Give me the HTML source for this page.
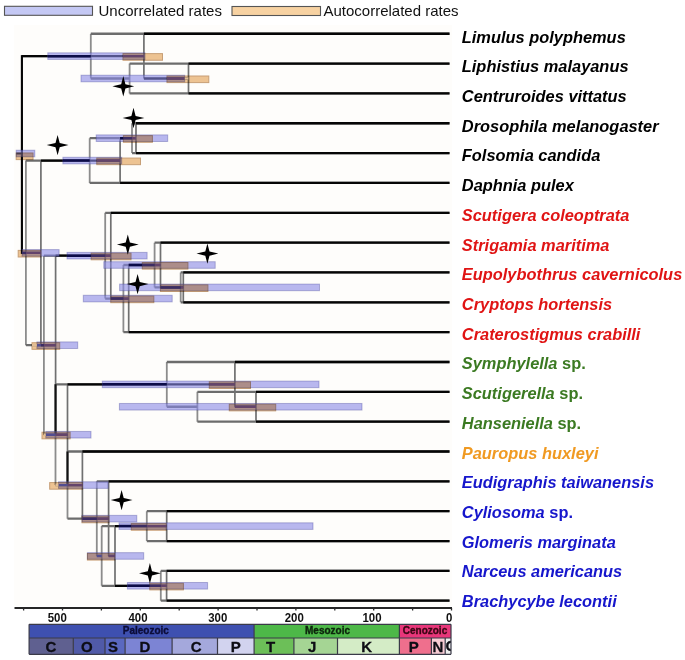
<!DOCTYPE html>
<html><head><meta charset="utf-8"><style>
html,body{margin:0;padding:0;background:#fff;}
body{width:685px;height:660px;overflow:hidden;}
svg{display:block;}
text{font-family:"Liberation Sans",sans-serif;}
.lb{font-size:16px;font-weight:bold;}
.ax{font-size:13px;font-weight:bold;fill:#111;}
.era{font-size:10px;font-weight:bold;stroke-width:0.35px;}
.per{font-size:15px;font-weight:bold;fill:#0d0d14;stroke:#0d0d14;stroke-width:0.3px;}
.lg{font-size:15px;fill:#111;}
</style></head><body>
<svg width="685" height="660" viewBox="0 0 685 660">
<rect x="14" y="25" width="438" height="581" fill="#fefdfb"/>
<path d="M21.9 56.13V252.89M90.8 33.75V78.51M129.6 63.59V93.43M25.9 160.57V345.21M89.7 138.19V182.95M132 123.27V153.11M43.9 255.69V434.73M105.2 212.79V298.58M123.4 265.01V332.15M154.6 242.63V287.39M180.7 272.47V302.31M55.5 384.37V485.08M166.8 361.99V406.75M197.4 391.83V421.67M67.5 451.51V518.65M96.8 481.35V555.95M101.7 526.11V585.79M146.8 511.19V541.03M160.8 570.87V600.71" stroke="#8c8c8c" stroke-width="1.8" fill="none"/>
<path d="M21.9 56.13H90.8M21.9 252.89H25.9M90.8 33.75H449.5M90.8 78.51H129.6M129.6 63.59H449.5M129.6 93.43H449.5M25.9 160.57H89.7M25.9 345.21H43.9M89.7 138.19H132M89.7 182.95H449.5M132 123.27H449.5M132 153.11H449.5M43.9 255.69H105.2M43.9 434.73H55.5M105.2 212.79H449.5M105.2 298.58H123.4M123.4 265.01H154.6M123.4 332.15H449.5M154.6 242.63H449.5M154.6 287.39H180.7M180.7 272.47H449.5M180.7 302.31H449.5M55.5 384.37H166.8M55.5 485.08H67.5M166.8 361.99H449.5M166.8 406.75H197.4M197.4 391.83H449.5M197.4 421.67H449.5M67.5 451.51H449.5M67.5 518.65H96.8M96.8 481.35H449.5M96.8 555.95H101.7M101.7 526.11H146.8M101.7 585.79H160.8M146.8 511.19H449.5M146.8 541.03H449.5M160.8 570.87H449.5M160.8 600.71H449.5" stroke="#6c6c6c" stroke-width="2.3" fill="none"/>
<path d="M21.9 56.13V252.89M143.9 33.75V78.51M188.5 63.59V93.43M40.9 160.57V345.21M120.1 138.19V182.95M136 123.27V153.11M55.6 255.69V434.73M110.8 212.79V298.58M128.7 265.01V332.15M160.5 242.63V287.39M183.3 272.47V302.31M67.5 384.37V485.08M234.9 361.99V406.75M256 391.83V421.67M82.4 451.51V518.65M108.6 481.35V555.95M115 526.11V585.79M166.7 511.19V541.03M166.6 570.87V600.71" stroke="#707070" stroke-width="1.7" fill="none"/>
<path d="M21.9 56.13H143.9M21.9 252.89H40.9M143.9 33.75H449.5M143.9 78.51H188.5M188.5 63.59H449.5M188.5 93.43H449.5M40.9 160.57H120.1M40.9 345.21H55.6M120.1 138.19H136M120.1 182.95H449.5M136 123.27H449.5M136 153.11H449.5M55.6 255.69H110.8M55.6 434.73H67.5M110.8 212.79H449.5M110.8 298.58H128.7M128.7 265.01H160.5M128.7 332.15H449.5M160.5 242.63H449.5M160.5 287.39H183.3M183.3 272.47H449.5M183.3 302.31H449.5M67.5 384.37H234.9M67.5 485.08H82.4M234.9 361.99H449.5M234.9 406.75H256M256 391.83H449.5M256 421.67H449.5M82.4 451.51H449.5M82.4 518.65H108.6M108.6 481.35H449.5M108.6 555.95H115M115 526.11H166.7M115 585.79H166.6M166.7 511.19H449.5M166.7 541.03H449.5M166.6 570.87H449.5M166.6 600.71H449.5" stroke="#050505" stroke-width="2.3" fill="none"/>
<path d="M55.55 384.37V434.73M67.5 451.51V485.08" stroke="#111" stroke-width="2" fill="none"/>
<path d="M21.9 55.13V253.89" stroke="#050505" stroke-width="2.1" fill="none"/>
<path d="M16.5 153.51H21.9" stroke="#050505" stroke-width="2" fill="none"/>
<g fill="rgb(137,137,230)" fill-opacity="0.6" stroke="rgb(60,60,150)" stroke-opacity="0.35" stroke-width="1"><rect x="16.2" y="150.21" width="18.6" height="6.6"/><rect x="47.8" y="52.83" width="97.2" height="6.6"/><rect x="81" y="75.21" width="103.7" height="6.6"/><rect x="22" y="249.59" width="37.1" height="6.6"/><rect x="62.9" y="157.27" width="58.8" height="6.6"/><rect x="96.2" y="134.89" width="71.5" height="6.6"/><rect x="36.9" y="341.91" width="40.8" height="6.6"/><rect x="67" y="252.38" width="80.1" height="6.6"/><rect x="83.3" y="295.28" width="88.9" height="6.6"/><rect x="103.8" y="261.71" width="111.4" height="6.6"/><rect x="119.6" y="284.09" width="199.9" height="6.6"/><rect x="45.8" y="431.43" width="45.2" height="6.6"/><rect x="102.3" y="381.07" width="216.7" height="6.6"/><rect x="119.4" y="403.45" width="242.6" height="6.6"/><rect x="58.5" y="481.78" width="49.6" height="6.6"/><rect x="82" y="515.35" width="54.8" height="6.6"/><rect x="87.4" y="552.65" width="56.3" height="6.6"/><rect x="119" y="522.81" width="194" height="6.6"/><rect x="127.4" y="582.49" width="80.2" height="6.6"/></g>
<g fill="rgb(238,197,148)" stroke="rgb(200,160,120)" stroke-width="1" style="mix-blend-mode:multiply"><rect x="16.2" y="153.01" width="16.8" height="6.6"/><rect x="123" y="53.63" width="39.5" height="6.6"/><rect x="167" y="76.01" width="41.8" height="6.6"/><rect x="18.2" y="250.39" width="22.7" height="6.6"/><rect x="96.8" y="158.07" width="43.7" height="6.6"/><rect x="123.4" y="135.69" width="29" height="6.6"/><rect x="32" y="342.71" width="27.7" height="6.6"/><rect x="91.2" y="253.19" width="39.8" height="6.6"/><rect x="110.8" y="296.08" width="43" height="6.6"/><rect x="142.3" y="262.51" width="45.6" height="6.6"/><rect x="160.4" y="284.89" width="47.5" height="6.6"/><rect x="42" y="432.23" width="28.1" height="6.6"/><rect x="209.3" y="381.87" width="41.2" height="6.6"/><rect x="229.3" y="404.25" width="46.4" height="6.6"/><rect x="49.7" y="482.58" width="32.9" height="6.6"/><rect x="82" y="516.15" width="27" height="6.6"/><rect x="87.4" y="553.45" width="27.4" height="6.6"/><rect x="131.3" y="523.61" width="34.9" height="6.6"/><rect x="149.8" y="583.29" width="33.6" height="6.6"/></g>
<path d="M47.8 56.13H90.8M62.9 160.57H89.7M120.1 138.19H123.4M67 255.69H91.2M128.7 265.01H142.3M102.3 384.37H166.8M119 526.11H131.3M127.4 585.79H149.8" stroke="rgb(12,12,72)" stroke-width="2.5" fill="none"/>
<path d="M123 56.13H143.9M25.9 252.89H40.9M167 78.51H184.7M96.8 160.57H120.1M43.9 345.21H55.6M132 138.19H136M105.2 255.69H110.8M55.6 434.73H67.5M123.4 298.58H128.7M154.6 265.01H160.5M180.7 287.39H183.3M209.3 384.37H234.9M67.5 485.08H82.4M234.9 406.75H256M96.8 518.65H108.6M108.6 555.95H114.8M146.8 526.11H166.2M160.8 585.79H166.6" stroke="rgb(100,68,108)" stroke-width="2.4" fill="none"/>
<path d="M36.9 345.21H40.9M45.8 434.73H55.5M160.4 287.39H160.5M58.5 485.08H67.5M82 518.65H82.4M96.8 555.95H101.7" stroke="rgb(82,78,145)" stroke-width="2.4" fill="none"/>
<path d="M22 252.89H25.9M22 252.89H25.9M40.9 345.21H43.9M40.9 345.21H43.9M123.4 138.19H132M123.4 138.19H132M91.2 255.69H105.2M91.2 255.69H105.2M110.8 298.58H123.4M110.8 298.58H123.4M142.3 265.01H154.6M142.3 265.01H154.6M160.5 287.39H180.7M160.5 287.39H180.7M82.4 518.65H96.8M82.4 518.65H96.8M131.3 526.11H146.8M131.3 526.11H146.8M149.8 585.79H160.8M149.8 585.79H160.8" stroke="rgb(60,45,100)" stroke-width="2.5" fill="none"/>
<path d="M184.7 78.51H188.5M32 345.21H36.9M43.9 434.73H45.8M55.5 485.08H58.5" stroke="rgb(225,190,150)" stroke-width="2.6" fill="none"/>
<path d="M123.3 76.1L125.4 84.2 134.2 86.3L125.4 88.4 123.3 96.5L121.2 88.4 112.4 86.3L121.2 84.2 123.3 76.1ZM133.5 107.8L135.6 115.9 144.4 118L135.6 120.1 133.5 128.2L131.4 120.1 122.6 118L131.4 115.9 133.5 107.8ZM57.6 134.9L59.7 143 68.5 145.1L59.7 147.2 57.6 155.3L55.5 147.2 46.7 145.1L55.5 143 57.6 134.9ZM127.8 234.4L129.9 242.5 138.7 244.6L129.9 246.7 127.8 254.8L125.7 246.7 116.9 244.6L125.7 242.5 127.8 234.4ZM207.4 243.4L209.5 251.5 218.3 253.6L209.5 255.7 207.4 263.8L205.3 255.7 196.5 253.6L205.3 251.5 207.4 243.4ZM137.6 273.9L139.7 282 148.5 284.1L139.7 286.2 137.6 294.3L135.5 286.2 126.7 284.1L135.5 282 137.6 273.9ZM121.6 489.9L123.7 498 132.5 500.1L123.7 502.2 121.6 510.3L119.5 502.2 110.7 500.1L119.5 498 121.6 489.9ZM149.9 563.1L152 571.2 160.8 573.3L152 575.4 149.9 583.5L147.8 575.4 139 573.3L147.8 571.2 149.9 563.1Z" fill="#000"/>
<text x="0" y="42.6" fill="#000" class="lb" font-style="italic" transform="translate(461.8 0) scale(1.026 1)">Limulus polyphemus</text>
<text x="0" y="72.31" fill="#000" class="lb" font-style="italic" transform="translate(461.8 0) scale(1.026 1)">Liphistius malayanus</text>
<text x="0" y="102.02" fill="#000" class="lb" font-style="italic" transform="translate(461.8 0) scale(1.026 1)">Centruroides vittatus</text>
<text x="0" y="131.73" fill="#000" class="lb" font-style="italic" transform="translate(461.8 0) scale(1.026 1)">Drosophila melanogaster</text>
<text x="0" y="161.44" fill="#000" class="lb" font-style="italic" transform="translate(461.8 0) scale(1.026 1)">Folsomia candida</text>
<text x="0" y="191.15" fill="#000" class="lb" font-style="italic" transform="translate(461.8 0) scale(1.026 1)">Daphnia pulex</text>
<text x="0" y="220.86" fill="#e01414" class="lb" font-style="italic" transform="translate(461.8 0) scale(1.026 1)">Scutigera coleoptrata</text>
<text x="0" y="250.57" fill="#e01414" class="lb" font-style="italic" transform="translate(461.8 0) scale(1.026 1)">Strigamia maritima</text>
<text x="0" y="280.28" fill="#e01414" class="lb" font-style="italic" transform="translate(461.8 0) scale(1.026 1)">Eupolybothrus cavernicolus</text>
<text x="0" y="309.99" fill="#e01414" class="lb" font-style="italic" transform="translate(461.8 0) scale(1.026 1)">Cryptops hortensis</text>
<text x="0" y="339.7" fill="#e01414" class="lb" font-style="italic" transform="translate(461.8 0) scale(1.026 1)">Craterostigmus crabilli</text>
<text x="0" y="369.41" fill="#3b7a22" class="lb" transform="translate(461.8 0) scale(1.026 1)"><tspan font-style="italic">Symphylella</tspan> <tspan font-style="normal">sp.</tspan></text>
<text x="0" y="399.12" fill="#3b7a22" class="lb" transform="translate(461.8 0) scale(1.026 1)"><tspan font-style="italic">Scutigerella</tspan> <tspan font-style="normal">sp.</tspan></text>
<text x="0" y="428.83" fill="#3b7a22" class="lb" transform="translate(461.8 0) scale(1.026 1)"><tspan font-style="italic">Hanseniella</tspan> <tspan font-style="normal">sp.</tspan></text>
<text x="0" y="458.54" fill="#f09a22" class="lb" font-style="italic" transform="translate(461.8 0) scale(1.026 1)">Pauropus huxleyi</text>
<text x="0" y="488.25" fill="#1616cc" class="lb" font-style="italic" transform="translate(461.8 0) scale(1.026 1)">Eudigraphis taiwanensis</text>
<text x="0" y="517.96" fill="#1616cc" class="lb" transform="translate(461.8 0) scale(1.026 1)"><tspan font-style="italic">Cyliosoma</tspan> <tspan font-style="normal">sp.</tspan></text>
<text x="0" y="547.67" fill="#1616cc" class="lb" font-style="italic" transform="translate(461.8 0) scale(1.026 1)">Glomeris marginata</text>
<text x="0" y="577.38" fill="#1616cc" class="lb" font-style="italic" transform="translate(461.8 0) scale(1.026 1)">Narceus americanus</text>
<text x="0" y="607.09" fill="#1616cc" class="lb" font-style="italic" transform="translate(461.8 0) scale(1.026 1)">Brachycybe lecontii</text>
<path d="M14.5 608H452" stroke="#262626" stroke-width="2.1"/>
<path d="M451.5 608V610.6M412.6 608V610.6M373.7 608V610.6M334.8 608V610.6M295.9 608V610.6M257 608V610.6M218.1 608V610.6M179.2 608V610.6M140.3 608V610.6M101.4 608V610.6M62.5 608V610.6M23.6 608V610.6" stroke="#2a2a2a" stroke-width="1.3"/>
<text x="0" y="621.6" class="ax" text-anchor="middle" transform="translate(57.2 0) scale(0.88 1)">500</text>
<text x="0" y="621.6" class="ax" text-anchor="middle" transform="translate(138 0) scale(0.88 1)">400</text>
<text x="0" y="621.6" class="ax" text-anchor="middle" transform="translate(217.8 0) scale(0.88 1)">300</text>
<text x="0" y="621.6" class="ax" text-anchor="middle" transform="translate(294.2 0) scale(0.88 1)">200</text>
<text x="0" y="621.6" class="ax" text-anchor="middle" transform="translate(372 0) scale(0.88 1)">100</text>
<text x="0" y="621.6" class="ax" text-anchor="middle" transform="translate(449.3 0) scale(0.88 1)">0</text>
<rect x="29.1" y="624.3" width="225" height="13.7" fill="#3e50b0"/>
<text x="145.8" y="634.1" class="era" fill="#0c0c38" stroke="#0c0c38" text-anchor="middle">Paleozoic</text>
<rect x="254.1" y="624.3" width="145.3" height="13.7" fill="#4db848"/>
<text x="327.5" y="634.1" class="era" fill="#0c240c" stroke="#0c240c" text-anchor="middle">Mesozoic</text>
<rect x="399.4" y="624.3" width="51.6" height="13.7" fill="#e8367a"/>
<text x="425" y="634.1" class="era" fill="#3a0614" stroke="#3a0614" text-anchor="middle">Cenozoic</text>
<rect x="29.1" y="638" width="44.2" height="16.3" fill="#5f6090"/>
<text x="51" y="651.5" class="per" text-anchor="middle">C</text>
<rect x="73.3" y="638" width="31.7" height="16.3" fill="#505aa8"/>
<text x="86.8" y="651.5" class="per" text-anchor="middle">O</text>
<rect x="105" y="638" width="20.1" height="16.3" fill="#5a68c0"/>
<text x="113" y="651.5" class="per" text-anchor="middle">S</text>
<rect x="125.1" y="638" width="47" height="16.3" fill="#7c84d4"/>
<text x="144.8" y="651.5" class="per" text-anchor="middle">D</text>
<rect x="172.1" y="638" width="45.4" height="16.3" fill="#a4a8dc"/>
<text x="196.2" y="651.5" class="per" text-anchor="middle">C</text>
<rect x="217.5" y="638" width="36.6" height="16.3" fill="#d2d3ef"/>
<text x="235.7" y="651.5" class="per" text-anchor="middle">P</text>
<rect x="254.1" y="638" width="39.8" height="16.3" fill="#6cbf58"/>
<text x="270.7" y="651.5" class="per" text-anchor="middle">T</text>
<rect x="293.9" y="638" width="43.6" height="16.3" fill="#a5d594"/>
<text x="312.2" y="651.5" class="per" text-anchor="middle">J</text>
<rect x="337.5" y="638" width="61.9" height="16.3" fill="#d4ecc6"/>
<text x="366.6" y="651.5" class="per" text-anchor="middle">K</text>
<rect x="399.4" y="638" width="32" height="16.3" fill="#ef6f8d"/>
<text x="413.8" y="651.5" class="per" text-anchor="middle">P</text>
<rect x="431.4" y="638" width="13.8" height="16.3" fill="#f7ccd4"/>
<text x="437.9" y="651.5" class="per" text-anchor="middle">N</text>
<rect x="445.2" y="638" width="5.8" height="16.3" fill="#eeeeee"/>
<clipPath id="qc"><rect x="445.2" y="638" width="5.8" height="16.3"/></clipPath>
<text x="445.5" y="651" class="per" clip-path="url(#qc)">C</text>
<path d="M29.1 624.3H451M29.1 638H451M29.1 654.3H451M29.1 624.3V638M254.1 624.3V638M399.4 624.3V638M451 624.3V654.3M29.1 638V654.3M73.3 638V654.3M105 638V654.3M125.1 638V654.3M172.1 638V654.3M217.5 638V654.3M254.1 638V654.3M293.9 638V654.3M337.5 638V654.3M399.4 638V654.3M431.4 638V654.3M445.2 638V654.3" stroke="#3a3a48" stroke-width="1.2" fill="none"/>
<rect x="4.5" y="6.3" width="88" height="9" fill="#c4c8f4" stroke="#555" stroke-width="1.1"/>
<text x="98.5" y="16" class="lg">Uncorrelated rates</text>
<rect x="232" y="6.5" width="88.5" height="9" fill="#f7d2a2" stroke="#555" stroke-width="1.1"/>
<text x="323.5" y="16" class="lg">Autocorrelated rates</text>
</svg>
</body></html>
